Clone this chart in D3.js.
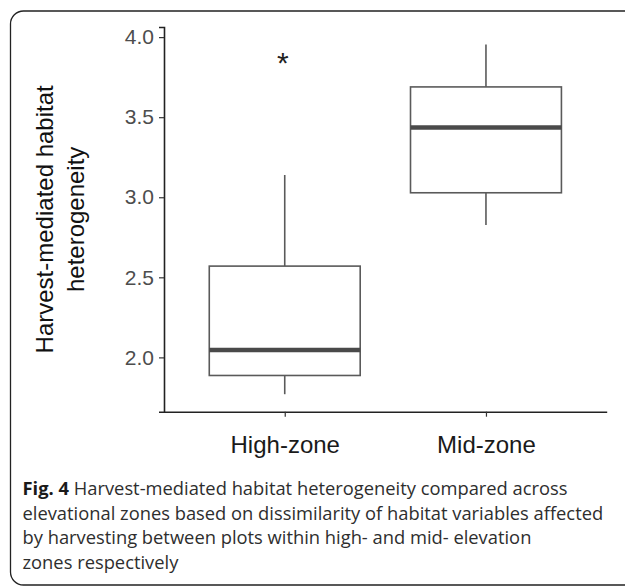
<!DOCTYPE html>
<html>
<head>
<meta charset="utf-8">
<script src="https://cdn.jsdelivr.net/npm/d3@7"></script>
<style>
  body { margin: 0; background: #fff; }
</style>
</head>
<body>
<div id="boxChart"></div>
<script>
// data
let zones = ["High-zone", "Mid-zone"];
let whiskerLow = [1.77, 2.826];
let q1 = [1.887, 3.028];
let median = [2.046, 3.436];
let q3 = [2.57, 3.689];
let whiskerHigh = [3.139, 3.954];
let yTicks = [2.0, 2.5, 3.0, 3.5, 4.0];
let starZone = "High-zone";
let starValue = 3.88;

let captionBold = "Fig. 4";
let captionLines = [
  " Harvest-mediated habitat heterogeneity compared across",
  "elevational zones based on dissimilarity of habitat variables affected",
  "by harvesting between plots within high- and mid- elevation",
  "zones respectively",
];

let data = zones.map((z, i) => ({
  zone: z,
  lo: whiskerLow[i],
  q1: q1[i],
  med: median[i],
  q3: q3[i],
  hi: whiskerHigh[i],
}));

let W = 625;
let H = 586;
let margin = { top: 27, left: 164, right: 18.3, bottom: 174.3 };
let width = W - margin.left - margin.right;
let height = H - margin.top - margin.bottom;

let svg = d3
  .select("#boxChart")
  .append("svg")
  .attr("width", W)
  .attr("height", H)
  .style("font-family", "'Liberation Sans', Arial, sans-serif");

// frame round the figure
svg
  .append("rect")
  .attr("x", 10.5)
  .attr("y", 11)
  .attr("width", 700)
  .attr("height", 574)
  .attr("rx", 13)
  .attr("fill", "none")
  .attr("stroke", "#222")
  .attr("stroke-width", 1.3);

let g = svg
  .append("g")
  .attr("transform", `translate(${margin.left}, ${margin.top})`);

// ggplot style 5% expansion
let lo = d3.min(data, (d) => d.lo);
let hi = d3.max(data, (d) => d.hi);
let pad = (hi - lo) * 0.05;

let yScale = d3
  .scaleLinear()
  .domain([lo - pad, hi + pad])
  .range([height, 0]);

let xScale = d3.scalePoint().domain(zones).range([0, width]).padding(0.6);
let boxW = xScale.step() * 0.75;

// y axis
g.append("g")
  .call(d3.axisLeft(yScale).tickValues(yTicks).tickFormat(d3.format(".1f")).tickSize(5).tickPadding(5))
  .call((a) => a.select(".domain").attr("stroke", "#222").attr("stroke-width", 1.6))
  .call((a) => a.selectAll(".tick line").attr("stroke", "#333").attr("stroke-width", 1.2))
  .call((a) =>
    a
      .selectAll(".tick text")
      .attr("fill", "#4d4d4d")
      .style("font-size", "21px")
      .style("font-family", "'Liberation Sans', Arial, sans-serif")
  );

// x axis
g.append("g")
  .attr("transform", `translate(0, ${height})`)
  .call(d3.axisBottom(xScale).tickSize(5).tickSizeOuter(0).tickPadding(19))
  .call((a) => a.select(".domain").attr("stroke", "#222").attr("stroke-width", 1.6))
  .call((a) => a.selectAll(".tick line").attr("stroke", "#333").attr("stroke-width", 1.2))
  .call((a) =>
    a
      .selectAll(".tick text")
      .attr("fill", "#1a1a1a")
      .style("font-size", "24px")
      .style("font-family", "'Liberation Sans', Arial, sans-serif")
  );

let boxes = g
  .selectAll(".box")
  .data(data)
  .join("g")
  .attr("class", "box")
  .attr("transform", (d) => `translate(${xScale(d.zone)}, 0)`);

// whiskers
boxes
  .append("line")
  .attr("y1", (d) => yScale(d.q3))
  .attr("y2", (d) => yScale(d.hi))
  .attr("stroke", "#5a5a5a")
  .attr("stroke-width", 1.6);

boxes
  .append("line")
  .attr("y1", (d) => yScale(d.q1))
  .attr("y2", (d) => yScale(d.lo))
  .attr("stroke", "#5a5a5a")
  .attr("stroke-width", 1.6);

boxes
  .append("rect")
  .attr("x", -boxW / 2)
  .attr("width", boxW)
  .attr("y", (d) => yScale(d.q3))
  .attr("height", (d) => yScale(d.q1) - yScale(d.q3))
  .attr("fill", "#fff")
  .attr("stroke", "#5a5a5a")
  .attr("stroke-width", 1.6);

boxes
  .append("line")
  .attr("x1", -boxW / 2)
  .attr("x2", boxW / 2)
  .attr("y1", (d) => yScale(d.med))
  .attr("y2", (d) => yScale(d.med))
  .attr("stroke", "#4a4a4a")
  .attr("stroke-width", 4.5);

// significance mark
g.append("text")
  .attr("x", xScale(starZone) - 2)
  .attr("y", yScale(starValue) + 17)
  .attr("text-anchor", "middle")
  .attr("fill", "#222")
  .style("font-size", "30px")
  .text("*");

// y title
let yTitle = svg
  .append("text")
  .attr("transform", `translate(0, ${margin.top + height / 2}) rotate(-90)`)
  .attr("text-anchor", "middle")
  .attr("fill", "#111")
  .style("font-size", "24px");

yTitle.append("tspan").attr("x", 0).attr("y", 53).text("Harvest-mediated habitat");
yTitle.append("tspan").attr("x", 0).attr("y", 84).text("heterogeneity");

// caption
let caption = svg
  .append("g")
  .style("font-family", "'Open Sans', 'Noto Sans', sans-serif")
  .attr("fill", "#2e2e2e");

let baseSize = 18;
let capText = caption
  .selectAll("text")
  .data(captionLines)
  .join("text")
  .attr("x", 22.5)
  .attr("y", (d, i) => 495 + i * 24.6)
  .style("font-size", baseSize + "px");

capText.each(function (d, i) {
  let t = d3.select(this);
  if (i === 0) {
    t.append("tspan").style("font-weight", "bold").attr("fill", "#1a1a1a").text(captionBold);
  }
  t.append("tspan").text(d);
});

// fit the longest line to its width in the figure
let longest = capText.nodes()[1].getComputedTextLength();
let fitted = (baseSize * 581) / longest;
capText.style("font-size", fitted + "px");
</script>
</body>
</html>
